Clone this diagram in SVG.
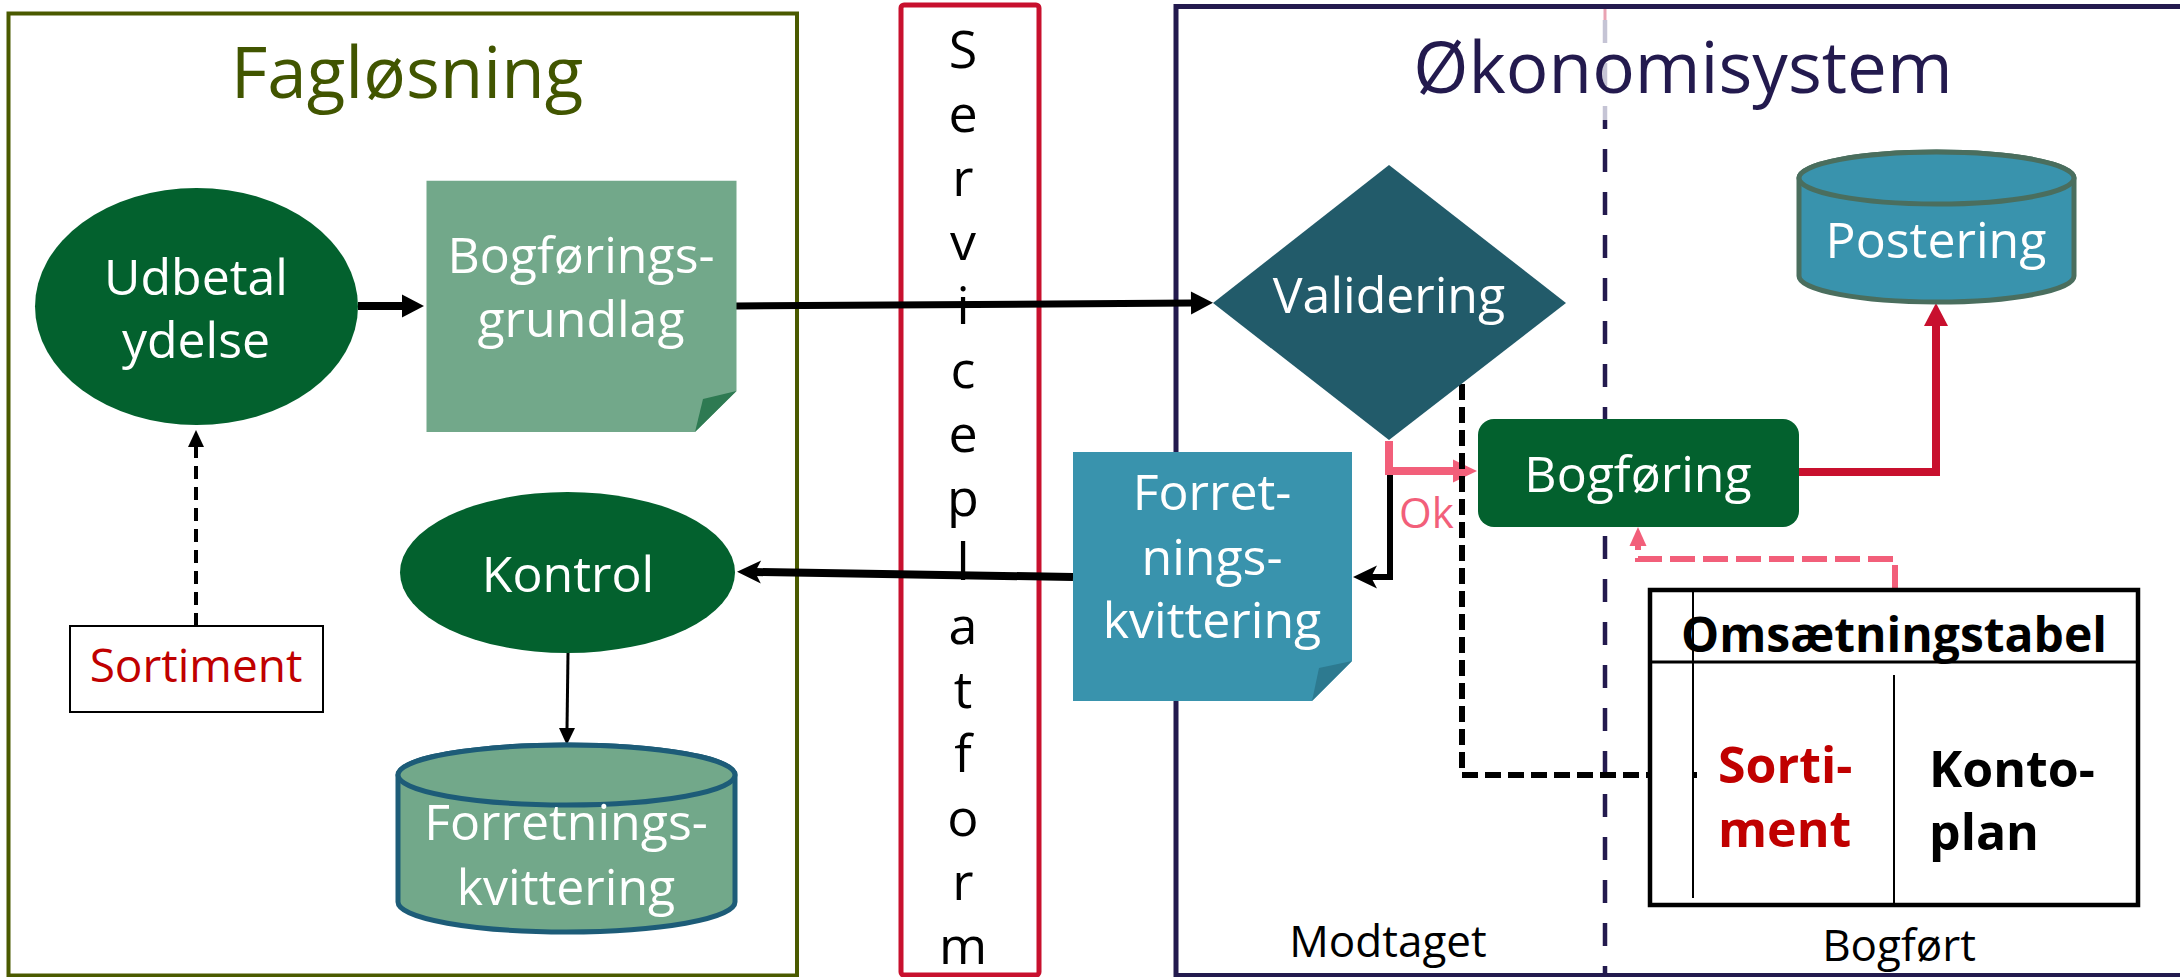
<svg xmlns="http://www.w3.org/2000/svg" width="2180" height="977" viewBox="0 0 2180 977">
<style>
text{font-family:"Open Sans","Noto Sans","DejaVu Sans",sans-serif}
.w{fill:#fff;font-size:50px;text-anchor:middle}
.title{font-size:71px;text-anchor:middle}
.lbl{font-size:44px;text-anchor:middle;fill:#000}
.tb{font-size:50px;font-weight:bold}
.conn{fill:none;stroke-linejoin:miter}
</style>
<defs>
<marker id="aBlk" markerUnits="userSpaceOnUse" orient="auto" refX="1" refY="0" markerWidth="30" markerHeight="30" overflow="visible"><path d="M0,-11.5 L22,0 L0,11.5 Z" fill="#000" stroke="none"/></marker>
<marker id="aBlkN" markerUnits="userSpaceOnUse" orient="auto" refX="6" refY="0" markerWidth="30" markerHeight="30" overflow="visible"><path d="M0,-11.5 L24,0 L0,11.5 L6,0 Z" fill="#000" stroke="none"/></marker>
<marker id="aBlkS" markerUnits="userSpaceOnUse" orient="auto" refX="1" refY="0" markerWidth="30" markerHeight="30" overflow="visible"><path d="M0,-8 L17,0 L0,8 Z" fill="#000" stroke="none"/></marker>
<marker id="aPink" markerUnits="userSpaceOnUse" orient="auto" refX="1" refY="0" markerWidth="30" markerHeight="30" overflow="visible"><path d="M0,-11.5 L24,0 L0,11.5 Z" fill="#F25F7A" stroke="none"/></marker>
<marker id="aPinkS" markerUnits="userSpaceOnUse" orient="auto" refX="1" refY="0" markerWidth="30" markerHeight="30" overflow="visible"><path d="M0,-8.5 L19,0 L0,8.5 Z" fill="#F25F7A" stroke="none"/></marker>
<marker id="aRed" markerUnits="userSpaceOnUse" orient="auto" refX="1" refY="0" markerWidth="30" markerHeight="30" overflow="visible"><path d="M0,-12 L23,0 L0,12 Z" fill="#C8102E" stroke="none"/></marker>
</defs>
<rect width="2180" height="977" fill="#fff"/>

<g id="faglosning">
<rect x="8.5" y="13.5" width="788.5" height="962" fill="none" stroke="#4A5A00" stroke-width="4"/>
<text class="title" x="407" y="98" fill="#415500">Fagløsning</text>
</g>

<g id="serviceplatform">
<rect x="901" y="5" width="138" height="970" rx="3" fill="none" stroke="#C8102E" stroke-width="5"/>
</g>

<g id="okonomisystem">
<rect x="1176" y="6.5" width="1100" height="969" fill="none" stroke="#231A4E" stroke-width="5"/>
<line x1="1605" y1="9" x2="1605" y2="20" stroke="#E9A3B3" stroke-width="3"/>
<line x1="1605" y1="20" x2="1605" y2="120" stroke="#C5C4D5" stroke-width="4.5" stroke-dasharray="23 20"/>
<line x1="1605" y1="120" x2="1605" y2="976" stroke="#231A4E" stroke-width="4.5" stroke-dasharray="23 20" stroke-dashoffset="14"/>
<text class="title" x="1683" y="93" fill="#231A4E">Økonomisystem</text>
<text class="lbl" x="1388" y="957">Modtaget</text>
<text class="lbl" x="1899" y="961">Bogført</text>
</g>

<g id="connectors">
<line class="conn" x1="358" y1="306" x2="403" y2="306" stroke="#000" stroke-width="8" marker-end="url(#aBlk)"/>
<line class="conn" x1="736" y1="306" x2="1192" y2="303" stroke="#000" stroke-width="7" marker-end="url(#aBlk)"/>
<line class="conn" x1="1073" y1="577" x2="755" y2="572" stroke="#000" stroke-width="8" marker-end="url(#aBlkN)"/>
<line class="conn" x1="568" y1="653" x2="567" y2="729" stroke="#000" stroke-width="3" marker-end="url(#aBlkS)"/>
<line class="conn" x1="196" y1="626" x2="196" y2="446" stroke="#000" stroke-width="4" stroke-dasharray="13 8" marker-end="url(#aBlkS)"/>
<path class="conn" d="M1390,441 V577 H1371" stroke="#000" stroke-width="6" marker-end="url(#aBlkN)"/>
<path class="conn" d="M1389,441 V471 H1454" stroke="#F25F7A" stroke-width="8" marker-end="url(#aPink)"/>
<path class="conn" d="M1462,384 V775 H1697" stroke="#000" stroke-width="6" stroke-dasharray="16 7"/>
<path class="conn" d="M1799,472 H1936 V325" stroke="#C8102E" stroke-width="8" marker-end="url(#aRed)"/>
<path class="conn" d="M1895,590 V559 H1638 V545" stroke="#F25F7A" stroke-width="6" stroke-dasharray="25 8" marker-end="url(#aPinkS)"/>
<text x="1399" y="528" font-size="42" fill="#F25F7A">Ok</text>
</g>

<g id="udbetal">
<ellipse cx="196.5" cy="306.5" rx="161.5" ry="118.5" fill="#03612E"/>
<text class="w" x="196" y="295">Udbetal</text>
<text class="w" x="196" y="358">ydelse</text>
</g>

<g id="bogforingsgrundlag">
<path d="M426.5,180.7 H736.5 V391 L695,432 H426.5 Z" fill="#72A88A"/>
<path d="M695,432 L703,399 L736.5,391 Z" fill="#2E7A52"/>
<text class="w" x="581" y="273">Bogførings-</text>
<text class="w" x="581" y="337">grundlag</text>
</g>

<g id="sortiment">
<rect x="70" y="626" width="253" height="86" fill="#fff" stroke="#000" stroke-width="2"/>
<text x="196" y="682" font-size="46" fill="#C00000" text-anchor="middle">Sortiment</text>
</g>

<g id="kontrol">
<ellipse cx="567.5" cy="572.5" rx="167.5" ry="80.5" fill="#03612E"/>
<text class="w" x="568" y="592">Kontrol</text>
</g>

<g id="forretningskvittering-db">
<path d="M398,775 V902 A168.5,30 0 0 0 735,902 V775 A168.5,30 0 0 0 398,775 Z" fill="#72A88A" stroke="#1D5C78" stroke-width="5"/>
<ellipse cx="566.5" cy="775" rx="168.5" ry="30" fill="#72A88A" stroke="#1D5C78" stroke-width="5"/>
<text class="w" x="566" y="840">Forretnings-</text>
<text class="w" x="566" y="905">kvittering</text>
</g>

<g id="serviceplatform-label">
<text font-size="52" fill="#000" text-anchor="middle"><tspan x="963" y="67.5">S</tspan><tspan x="963" y="131.5">e</tspan><tspan x="963" y="195.5">r</tspan><tspan x="963" y="259.5">v</tspan><tspan x="963" y="323.5">i</tspan><tspan x="963" y="387.5">c</tspan><tspan x="963" y="451.5">e</tspan><tspan x="963" y="515.5">p</tspan><tspan x="963" y="579.5">l</tspan><tspan x="963" y="643.5">a</tspan><tspan x="963" y="707.5">t</tspan><tspan x="963" y="771.5">f</tspan><tspan x="963" y="835.5">o</tspan><tspan x="963" y="899.5">r</tspan><tspan x="963" y="963.5">m</tspan></text>
</g>

<g id="validering">
<path d="M1213,303 L1389,165 L1566,303 L1389,440 Z" fill="#225B6A"/>
<text class="w" x="1389" y="313">Validering</text>
</g>

<g id="forretningskvittering-doc">
<path d="M1073,452 H1352 V661 L1312,701 H1073 Z" fill="#3993AD"/>
<path d="M1312,701 L1319,668 L1352,661 Z" fill="#2D7A90"/>
<text class="w" x="1212" y="510">Forret-</text>
<text class="w" x="1212" y="575">nings-</text>
<text class="w" x="1212" y="638">kvittering</text>
</g>

<g id="bogforing">
<rect x="1478" y="419" width="321" height="108" rx="16" fill="#03612E"/>
<text class="w" x="1638" y="492">Bogføring</text>
</g>

<g id="postering">
<path d="M1799,178 V276 A137.5,26 0 0 0 2074,276 V178 A137.5,26 0 0 0 1799,178 Z" fill="#3993AD" stroke="#4A6E5E" stroke-width="5"/>
<ellipse cx="1936.5" cy="178" rx="137.5" ry="26" fill="#3993AD" stroke="#4A6E5E" stroke-width="5"/>
<text class="w" x="1936" y="258">Postering</text>
</g>

<g id="omsaetningstabel">
<rect x="1650" y="590" width="488" height="315" fill="#fff" stroke="#000" stroke-width="4.5"/>
<line x1="1650" y1="662" x2="2138" y2="662" stroke="#000" stroke-width="3"/>
<line x1="1693" y1="590" x2="1693" y2="898" stroke="#000" stroke-width="2"/>
<line x1="1894" y1="675" x2="1894" y2="905" stroke="#000" stroke-width="2"/>
<text x="1894" y="652" font-size="48" font-weight="bold" text-anchor="middle" fill="#000">Omsætningstabel</text>
<text class="tb" x="1718" y="783" fill="#C00000">Sorti-</text>
<text class="tb" x="1718" y="847" fill="#C00000">ment</text>
<text class="tb" x="1929" y="787" fill="#000">Konto-</text>
<text class="tb" x="1929" y="850" fill="#000">plan</text>
</g>
<line x1="1693" y1="775" x2="1697" y2="775" stroke="#000" stroke-width="6"/>
</svg>
